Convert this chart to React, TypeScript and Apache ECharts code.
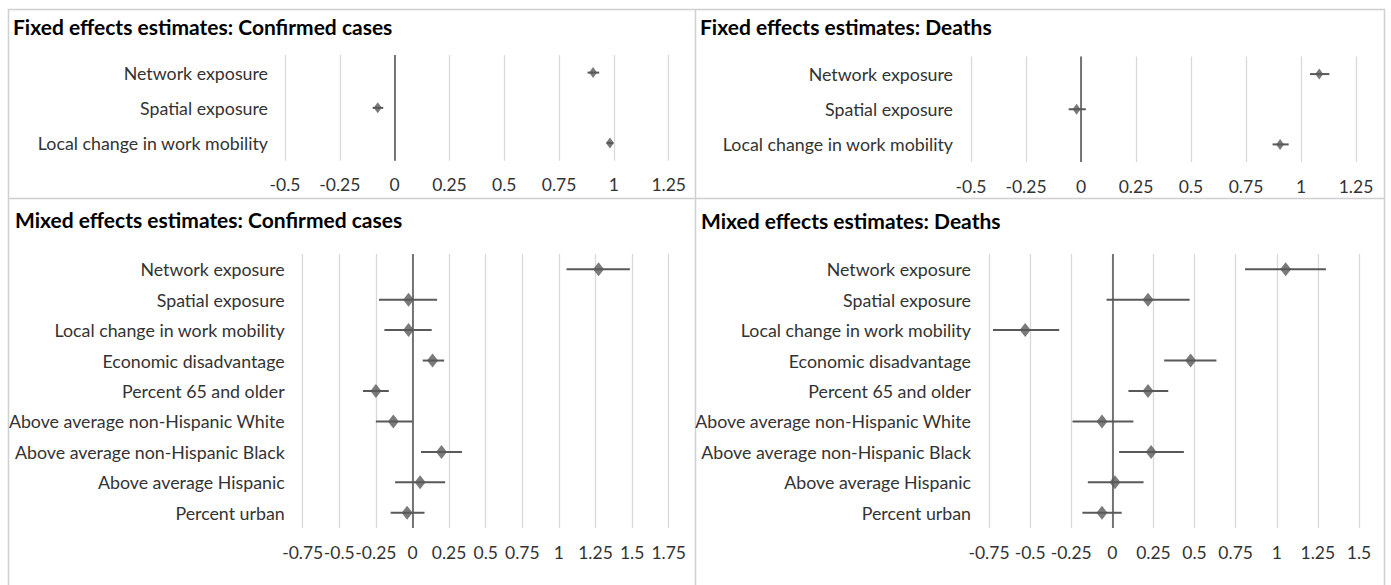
import React, { useEffect, useRef } from "react";
import * as echarts from "echarts";

const fixedCategories = ["Network exposure", "Spatial exposure", "Local change in work mobility"];
const mixedCategories = [
  "Network exposure",
  "Spatial exposure",
  "Local change in work mobility",
  "Economic disadvantage",
  "Percent 65 and older",
  "Above average non-Hispanic White",
  "Above average non-Hispanic Black",
  "Above average Hispanic",
  "Percent urban",
];

const fixedCasesEst = [0.905, -0.077, 0.982];
const fixedCasesLow = [0.88, -0.1, 0.967];
const fixedCasesHigh = [0.933, -0.052, 0.997];

const fixedDeathsEst = [1.083, -0.02, 0.905];
const fixedDeathsLow = [1.041, -0.056, 0.871];
const fixedDeathsHigh = [1.129, 0.022, 0.944];

const mixedCasesEst = [1.271, -0.027, -0.027, 0.137, -0.25, -0.131, 0.198, 0.052, -0.037];
const mixedCasesLow = [1.052, -0.229, -0.192, 0.07, -0.338, -0.25, 0.058, -0.119, -0.149];
const mixedCasesHigh = [1.485, 0.168, 0.131, 0.216, -0.162, 0.0, 0.338, 0.223, 0.082];

const mixedDeathsEst = [1.054, 0.217, -0.53, 0.476, 0.217, -0.063, 0.236, 0.016, -0.063];
const mixedDeathsLow = [0.807, -0.035, -0.726, 0.315, 0.098, -0.242, 0.041, -0.149, -0.182];
const mixedDeathsHigh = [1.299, 0.47, -0.323, 0.633, 0.34, 0.128, 0.435, 0.19, 0.057];

const panelTitles = [
  "Fixed effects estimates: Confirmed cases",
  "Fixed effects estimates: Deaths",
  "Mixed effects estimates: Confirmed cases",
  "Mixed effects estimates: Deaths",
];

const FONT = "Lato, 'Noto Sans', sans-serif";
const DARK = "#595959";
const GRID = "#d9d9d9";
const TEXT = "#333333";

export default function App() {
  const ref = useRef<HTMLDivElement>(null);
  useEffect(() => {
    if (!ref.current) return;
    const chart = echarts.init(ref.current, null, { renderer: "svg" });

    const panels = [
      { cats: fixedCategories, est: fixedCasesEst, low: fixedCasesLow, high: fixedCasesHigh, min: -0.5, max: 1.25, grid: { left: 285, width: 383.7, top: 55, height: 105.7 }, sym: [8, 11], margin: 17 },
      { cats: fixedCategories, est: fixedDeathsEst, low: fixedDeathsLow, high: fixedDeathsHigh, min: -0.5, max: 1.25, grid: { left: 971, width: 385, top: 56.5, height: 105.5 }, sym: [8, 11], margin: 18 },
      { cats: mixedCategories, est: mixedCasesEst, low: mixedCasesLow, high: mixedCasesHigh, min: -0.75, max: 1.75, grid: { left: 302.7, width: 366, top: 254, height: 274 }, sym: [11, 14], margin: 18 },
      { cats: mixedCategories, est: mixedDeathsEst, low: mixedDeathsLow, high: mixedDeathsHigh, min: -0.75, max: 1.5, grid: { left: 989, width: 370, top: 254, height: 274 }, sym: [11, 14], margin: 18 },
    ];

    const grids: any[] = [];
    const xAxes: any[] = [];
    const yAxes: any[] = [];
    const series: any[] = [];

    panels.forEach((p, i) => {
      grids.push({ ...p.grid, containLabel: false });
      xAxes.push({
        type: "value",
        gridIndex: i,
        min: p.min,
        max: p.max,
        interval: 0.25,
        axisLine: { show: false },
        axisTick: { show: false },
        splitLine: { show: true, lineStyle: { color: GRID, width: 1.3 } },
        axisLabel: { fontSize: 17.5, color: TEXT, fontFamily: FONT, margin: 15 },
      });
      yAxes.push({
        type: "category",
        gridIndex: i,
        data: p.cats,
        inverse: true,
        axisLine: { show: false },
        axisTick: { show: false },
        splitLine: { show: false },
        axisLabel: { fontSize: 17.8, color: TEXT, fontFamily: FONT, margin: p.margin },
      });
      series.push({
        type: "custom",
        xAxisIndex: i,
        yAxisIndex: i,
        data: p.cats.map((c, k) => [p.low[k], p.high[k], k]),
        encode: { x: [0, 1], y: 2 },
        renderItem: (params: any, api: any) => {
          const y = api.value(2);
          const a = api.coord([api.value(0), y]);
          const b = api.coord([api.value(1), y]);
          return {
            type: "line",
            shape: { x1: a[0], y1: a[1], x2: b[0], y2: b[1] },
            style: { stroke: DARK, lineWidth: 2 },
          };
        },
        silent: true,
        z: 3,
      });
      series.push({
        type: "scatter",
        xAxisIndex: i,
        yAxisIndex: i,
        data: p.cats.map((c, k) => [p.est[k], c]),
        symbol: "diamond",
        symbolSize: p.sym,
        itemStyle: { color: DARK },
        z: 4,
        markLine: {
          silent: true,
          symbol: "none",
          label: { show: false },
          lineStyle: { color: DARK, width: 1.6, type: "solid" },
          data: [{ xAxis: 0 }],
          z: 2,
        },
      });
    });

    const titlePos = [
      { left: 13, top: 16 },
      { left: 700, top: 16 },
      { left: 15, top: 209 },
      { left: 701, top: 210 },
    ];

    chart.setOption({
      animation: false,
      backgroundColor: "#fff",
      title: panelTitles.map((t, i) => ({
        text: t,
        left: titlePos[i].left,
        top: titlePos[i].top,
        padding: 0,
        textStyle: { fontSize: 21, fontWeight: "bold", color: "#000", fontFamily: FONT },
      })),
      grid: grids,
      xAxis: xAxes,
      yAxis: yAxes,
      series,
      graphic: [
        { type: "rect", shape: { x: 8.5, y: 9.5, width: 1376, height: 620 }, style: { fill: "none", stroke: "#d0d0d0", lineWidth: 1.5 }, silent: true },
        { type: "line", shape: { x1: 8.5, y1: 198.5, x2: 1384.5, y2: 198.5 }, style: { stroke: "#d0d0d0", lineWidth: 1.5 }, silent: true },
        { type: "line", shape: { x1: 695.5, y1: 9.5, x2: 695.5, y2: 600 }, style: { stroke: "#d0d0d0", lineWidth: 1.5 }, silent: true },
      ],
    });

    return () => chart.dispose();
  }, []);

  return (
    <div
      ref={ref}
      style={{ position: "fixed", left: 0, top: 0, width: 1391, height: 585, background: "#fff" }}
    />
  );
}
